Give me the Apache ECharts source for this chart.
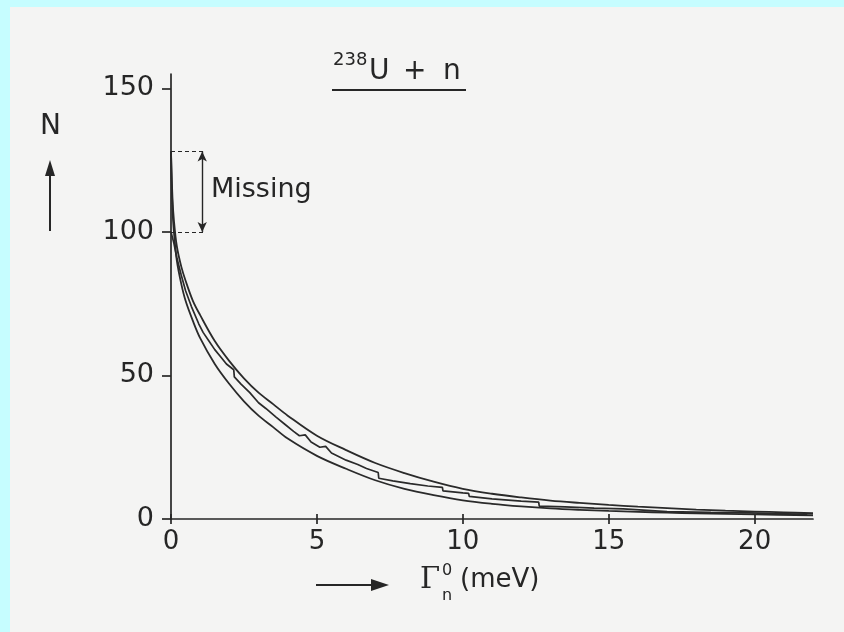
<!DOCTYPE html>
<html>
<head>
<meta charset="utf-8">
<style>
html,body{margin:0;padding:0;width:844px;height:632px;background:#c6fdff;overflow:hidden}
#bg{position:absolute;left:10px;top:7px;right:0;bottom:0;background:#f4f4f3}
#c{position:absolute;left:0;top:0;width:844px;height:632px}
</style>
<script src="https://cdn.jsdelivr.net/npm/echarts@6/dist/echarts.min.js"></script>
</head>
<body>
<div id="bg"></div>
<div id="c"></div>
<script>
// Tick labels
const xTicks = [0, 5, 10, 15, 20];
const yTicks = [0, 50, 100, 150];

// Upper smooth (Porter-Thomas) curve: [Γn0 (meV), N]
const upperCurve = [
  [0,128],[0.05,112],[0.1,104],[0.2,95],[0.35,88],[0.5,83],[0.75,76],[1.0,71],
  [1.5,62],[2.0,55],[2.5,49],[3.0,44],[3.5,40],[4.0,36],[5.0,29],[6.0,24],
  [7.0,19.5],[8.0,16],[9.0,13],[10.0,10.5],[11.0,8.8],[12.0,7.5],[13.0,6.4],
  [14.0,5.6],[15.0,4.9],[16.0,4.3],[17.0,3.8],[18.0,3.3],[19.0,2.9],[20.0,2.6],
  [21.0,2.3],[22.0,2.0]
];

// Lower smooth curve
const lowerCurve = [
  [0,128],[0.05,108],[0.1,100],[0.2,90],[0.35,82],[0.5,76],[0.75,69],[1.0,63],
  [1.5,54],[2.0,47],[2.5,41],[3.0,36],[3.5,32],[4.0,28],[5.0,22],[6.0,17.5],
  [7.0,13.5],[8.0,10.5],[9.0,8.3],[10.0,6.5],[11.0,5.3],[12.0,4.4],[13.0,3.7],
  [14.0,3.2],[15.0,2.8],[16.0,2.5],[17.0,2.2],[18.0,2.0],[20.0,1.6],[22.0,1.3]
];

// Observed (staircase) cumulative level count
const observedLevels = [
  [0,100],[0.1,96],[0.2,91],[0.35,85],[0.5,79.5],[0.7,74],[0.95,68],[1.1,65],
  [1.3,62],[1.5,59],[1.7,56.5],[1.9,54],[2.15,52],[2.17,49.5],[2.4,47],
  [2.7,44],[3.0,40.5],[3.25,38.5],[3.6,35.5],[3.9,33],[4.2,30.5],[4.4,29],
  [4.6,29.3],[4.8,26.8],[5.1,25],[5.3,25.3],[5.5,23],[6.0,20.5],[6.4,19],
  [6.7,17.6],[7.1,16.2],[7.12,14.2],[7.6,13.3],[8.2,12.3],[8.8,11.5],
  [9.3,11],[9.32,9.8],[10.0,9.1],[10.2,8.9],[10.22,7.9],[11.0,7.0],
  [12.0,6.2],[12.6,5.9],[12.62,4.5],[13.5,4.2],[14.5,3.8],[15.5,3.5],
  [15.52,2.9],[17.0,2.6],[18.5,2.3],[19.8,2.1],[19.82,1.7],[21.8,1.6]
];

// "Missing" annotation
const missingTop = 128;
const missingBottom = 100;
const missingArrowX = 1.07;
const missingDashEnd = 1.15;

const ink = '#262626';
const chart = echarts.init(document.getElementById('c'), null, {renderer: 'canvas'});

const lineSeries = (name, data, smooth, width) => ({
  name, type: 'line', data, smooth, symbol: 'none', silent: true,
  lineStyle: {color: '#2a2a2a', width},
  z: 3
});

chart.setOption({
  animation: false,
  backgroundColor: 'transparent',
  grid: {left: 171, top: 74, width: 642, height: 445, containLabel: false},
  xAxis: [{
    type: 'value', min: 0, max: 22, interval: 5,
    axisLine: {show: true, onZero: false, lineStyle: {color: ink, width: 1.7}},
    axisTick: {show: true, length: 5, customValues: xTicks, lineStyle: {color: ink, width: 1.7}},
    axisLabel: {customValues: xTicks, margin: 10, color: ink, fontSize: 26, fontFamily: 'DejaVu Sans'},
    splitLine: {show: false}
  }, {
    type: 'value', min: 0, max: 22, position: 'bottom', gridIndex: 0,
    axisLine: {show: false},
    axisTick: {show: true, inside: true, length: 5, customValues: xTicks, lineStyle: {color: ink, width: 1.7}},
    axisLabel: {show: false},
    splitLine: {show: false}
  }],
  yAxis: [{
    type: 'value', min: 0, max: 155, interval: 50,
    axisLine: {show: true, onZero: false, lineStyle: {color: ink, width: 1.7}},
    axisTick: {show: true, length: 9, customValues: yTicks, lineStyle: {color: ink, width: 1.7}},
    axisLabel: {customValues: yTicks, margin: 17, color: ink, fontSize: 27, fontFamily: 'DejaVu Sans'},
    splitLine: {show: false}
  }],
  series: [
    lineSeries('upper', upperCurve, 0.35, 1.8),
    lineSeries('lower', lowerCurve, 0.35, 1.8),
    Object.assign(lineSeries('observed', observedLevels, false, 1.7), {
      markLine: {
        silent: true,
        symbol: ['none', 'none'],
        label: {show: false},
        data: [
          [{coord: [0, missingTop], lineStyle: {type: [4, 3], color: ink, width: 1.2}},
           {coord: [missingDashEnd, missingTop]}],
          [{coord: [0, missingBottom], lineStyle: {type: [4, 3], color: ink, width: 1.2}},
           {coord: [missingDashEnd, missingBottom]}],
          [{coord: [missingArrowX, missingBottom], symbol: 'arrow', symbolSize: [7, 10],
            lineStyle: {type: 'solid', color: ink, width: 1.4}},
           {coord: [missingArrowX, missingTop], symbol: 'arrow', symbolSize: [7, 10]}]
        ]
      }
    })
  ],
  graphic: [
    // Title  238U + n
    {type: 'text', left: 333, top: 51, style: {text: '238', font: '18px "DejaVu Sans"', fill: ink}},
    {type: 'text', left: 369, top: 58, style: {text: 'U', font: '28px "DejaVu Sans"', fill: ink}},
    {type: 'text', left: 403, top: 58, style: {text: '+', font: '28px "DejaVu Sans"', fill: ink}},
    {type: 'text', left: 443, top: 58, style: {text: 'n', font: '28px "DejaVu Sans"', fill: ink}},
    {type: 'line', shape: {x1: 332, y1: 90, x2: 466, y2: 90}, style: {stroke: ink, lineWidth: 2}},
    // Missing
    {type: 'text', left: 211, top: 176, style: {text: 'Missing', font: '27px "DejaVu Sans"', fill: ink}},
    // N with arrow
    {type: 'text', left: 40, top: 113, style: {text: 'N', font: '28px "DejaVu Sans"', fill: ink}},
    {type: 'line', shape: {x1: 50, y1: 231, x2: 50, y2: 172}, style: {stroke: ink, lineWidth: 2}},
    {type: 'polygon', shape: {points: [[50, 160], [45, 176], [55, 176]]}, style: {fill: ink}},
    // x axis title  →  Γn0 (meV)
    {type: 'line', shape: {x1: 316, y1: 585, x2: 376, y2: 585}, style: {stroke: ink, lineWidth: 2}},
    {type: 'polygon', shape: {points: [[389, 585], [371, 579], [371, 591]]}, style: {fill: ink}},
    {type: 'text', left: 420, top: 566, style: {text: 'Γ', font: '29px "DejaVu Serif"', fill: ink}},
    {type: 'text', left: 442, top: 563, style: {text: '0', font: '16px "DejaVu Sans"', fill: ink}},
    {type: 'text', left: 442, top: 588, style: {text: 'n', font: '16px "DejaVu Sans"', fill: ink}},
    {type: 'text', left: 460, top: 567, style: {text: '(meV)', font: '26px "DejaVu Sans"', fill: ink}}
  ]
});
</script>
</body>
</html>
